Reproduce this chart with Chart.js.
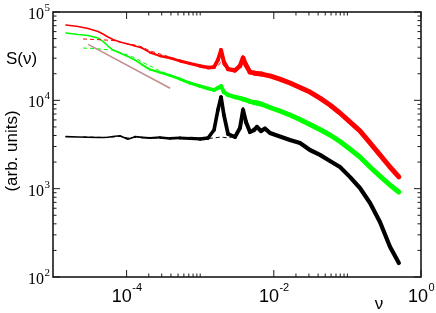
<!DOCTYPE html>
<html><head><meta charset="utf-8">
<script src="https://cdn.jsdelivr.net/npm/chart.js@4.4.1/dist/chart.umd.min.js"></script>
<style>html,body{margin:0;padding:0;background:#fff;}canvas{display:block;}</style>
</head><body>
<canvas id="c" width="436" height="313"></canvas>
<script>
// ---- data (frequency nu, spectral density S(nu)) ----
const nu = [1.50e-5, 2.19e-5, 2.99e-5, 4.09e-5, 4.78e-5, 5.59e-5, 6.53e-5, 8.13e-5, 1.04e-4, 1.30e-4,
  1.62e-4, 2.08e-4, 2.84e-4, 3.89e-4, 5.31e-4, 7.27e-4, 9.94e-4, 1.28e-3, 1.54e-3, 1.74e-3,
  1.92e-3, 2.10e-3, 2.39e-3, 2.97e-3, 3.47e-3, 3.82e-3, 4.19e-3, 4.75e-3, 5.38e-3, 5.91e-3,
  6.70e-3, 7.59e-3, 8.88e-3, 1.21e-2, 1.66e-2, 2.27e-2, 3.10e-2, 4.24e-2, 5.80e-2, 7.93e-2,
  0.108, 0.148, 0.203, 0.277, 0.379, 0.50];
const redS = [71300, 68500, 65000, 60200, 56300, 52100, 48800, 45800, 43400, 41200,
  39100, 34800, 31800, 30200, 27900, 26100, 24500, 23500, 23800, 28600,
  37100, 27200, 22600, 21800, 24500, 30200, 25100, 20900, 20400, 20100,
  19900, 19400, 18900, 17400, 15700, 14000, 12400, 10600, 8850, 7190,
  5690, 4500, 3290, 2410, 1760, 1360];
const greenS = [57800, 55600, 54200, 50800, 46400, 41200, 37100, 34300, 31400, 28600,
  25400, 22300, 20700, 19100, 17400, 15700, 14500, 13600, 13100, 13800,
  14500, 12400, 11500, 10900, 10600, 10300, 10100, 9700, 9450, 9330,
  9090, 8740, 8300, 7570, 6820, 6070, 5320, 4680, 4050, 3420,
  2810, 2280, 1760, 1390, 1100, 917];
const blackS = [3880, 3850, 3820, 3800, 3790, 3820, 3900, 3980, 3620, 3880,
  3800, 3750, 3800, 3700, 3750, 3700, 3650, 3750, 4610, 7770,
  10900, 6820, 4160, 3850, 4860, 7770, 5690, 4380, 4610, 4990,
  4500, 4800, 4270, 3900, 3560, 3290, 2740, 2410, 2060, 1760,
  1360, 1017, 688, 419, 220, 144];

// second (dashed) set of spectra, low-frequency part
const nuDash = [2.56e-5, 3.72e-5, 5.09e-5, 6.53e-5, 8.13e-5, 1.04e-4, 1.30e-4, 1.62e-4, 2.08e-4, 2.84e-4,
  3.89e-4, 5.31e-4, 7.27e-4, 9.94e-4, 1.28e-3, 1.54e-3, 1.74e-3, 1.92e-3, 2.10e-3, 2.39e-3,
  2.97e-3, 3.47e-3, 3.82e-3, 4.19e-3, 4.75e-3];
const redDashS = [49500, 48800, 48200, 47600, 45800, 43400, 42300, 40200, 36200, 33500,
  30900, 28600, 26500, 24800, 23800, 23200, 24500, 27200, 24500, 22600,
  22000, 25800, 32600, 26500, 21500];
const greenDashS = [39100, 38600, 37600, 37100, 34800, 32600, 30200, 27200, 24500, 21500,
  19400, 17700, 15900, 14700, 13800, 13300, 13800, 14200, 12800, 11800,
  11100, 10800, 10600, 10200, 9830];
const blackDashS = [3850, 3820, 3800, 3850, 3900, 3750, 3800, 3800, 3750, 3750,
  3700, 3700, 3650, 3650, 3700, 3750, 3800, 3850, 3800, 3750,
  3950, 5120, 8400, 5990, 4380];

// power-law guide line
const guideNu = [3.0e-5, 3.9e-4];
const guideS = [43000, 13700];

// axis ticks
const xMajor = [1e-4, 1e-2, 1];
const xMajorExp = ['-4', '-2', '0'];
const xMinor = [2e-4,3e-4,4e-4,5e-4,6e-4,7e-4,8e-4,9e-4,1e-3, 2e-2,3e-2,4e-2,5e-2,6e-2,7e-2,8e-2,9e-2,1e-1];
const yMajor = [1e2, 1e3, 1e4, 1e5];
const yMajorExp = ['2', '3', '4', '5'];
const yMinorMult = [2,3,4,5,6,7,8,9];

// ---- build ----
const pts = (xs, ys) => xs.map((v, i) => ({x: v, y: ys[i]}));
function bandWidth(maxW) {
  return c => {
    const lx = (Math.log10(c.p0.parsed.x) + Math.log10(c.p1.parsed.x)) / 2;
    if (lx < -3.9) return 1.6;
    if (lx < -3.0) return 1.6 + (lx + 3.9) / 0.9 * 1.8;
    if (lx < -2.2) return 3.4 + (lx + 3.0) / 0.8 * (maxW - 3.4);
    return maxW;
  };
}
const solid = (data, color, maxW) => ({data, borderColor: color, borderWidth: 1.6, borderCapStyle: 'round',
  borderJoinStyle: 'round', segment: {borderWidth: bandWidth(maxW)}, pointRadius: 0, fill: false});
const dashed = (data, color) => ({data, borderColor: color, borderWidth: 1, borderDash: [4, 3],
  pointRadius: 0, fill: false});

const datasets = [
  dashed(pts(nuDash, redDashS), '#ff0000'),
  dashed(pts(nuDash, greenDashS), '#00ff00'),
  dashed(pts(nuDash, blackDashS), '#000000'),
  solid(pts(nu, redS), '#ff0000', 5),
  solid(pts(nu, greenS), '#00ff00', 5),
  solid(pts(nu, blackS), '#000000', 4.2),
  {data: pts(guideNu, guideS), borderColor: '#c09090', borderWidth: 1.6, pointRadius: 0, fill: false}
];

const SERIF = '"Liberation Serif", "Times New Roman", serif';
const SANS = '"Liberation Sans", Arial, sans-serif';

const framePlugin = {
  id: 'frameTicks',
  afterDraw(chart) {
    const {ctx, chartArea: a, scales: {x, y}} = chart;
    ctx.save();
    ctx.strokeStyle = '#1a1a1a';
    ctx.lineWidth = 1;
    const line = (x1, y1, x2, y2) => { ctx.beginPath(); ctx.moveTo(x1, y1); ctx.lineTo(x2, y2); ctx.stroke(); };
    xMinor.forEach(v => { const p = x.getPixelForValue(v);
      line(p, a.bottom, p, a.bottom - 3.5); line(p, a.top, p, a.top + 3.5); });
    xMajor.forEach(v => { const p = x.getPixelForValue(v);
      line(p, a.bottom, p, a.bottom - 7); line(p, a.top, p, a.top + 7); });
    yMajor.forEach((v, i) => {
      const p = y.getPixelForValue(v);
      line(a.left, p, a.left + 7, p); line(a.right, p, a.right - 7, p);
      if (i < yMajor.length - 1) yMinorMult.forEach(m => { const q = y.getPixelForValue(v * m);
        line(a.left, q, a.left + 3.5, q); line(a.right, q, a.right - 3.5, q); });
    });
    ctx.lineWidth = 1.6;
    ctx.strokeRect(a.left, a.top, a.right - a.left, a.bottom - a.top);

    ctx.fillStyle = '#000';
    ctx.textBaseline = 'alphabetic';
    ctx.textAlign = 'left';
    // y tick labels
    yMajor.forEach((v, i) => {
      const p = y.getPixelForValue(v);
      ctx.font = '11px ' + SERIF; const we = ctx.measureText(yMajorExp[i]).width;
      ctx.fillText(yMajorExp[i], 50 - we, p - 1);
      ctx.font = '16px ' + SERIF; const w10 = ctx.measureText('10').width;
      ctx.fillText('10', 50 - we - w10 - 0.5, p + 7);
    });
    // x tick labels
    xMajor.forEach((v, i) => {
      const p = x.getPixelForValue(v);
      ctx.font = '18px ' + SANS; const w10 = ctx.measureText('10').width;
      ctx.font = '11px ' + SANS; const we = ctx.measureText(xMajorExp[i]).width;
      const left = p - (w10 + we) / 2;
      ctx.font = '18px ' + SANS; ctx.fillText('10', left, 302);
      ctx.font = '11px ' + SANS; ctx.fillText(xMajorExp[i], left + w10 + 0.5, 291);
    });
    // axis titles
    ctx.font = '17px ' + SANS;
    ctx.fillText('S(\u03bd)', 6, 64);
    ctx.textAlign = 'center';
    ctx.fillText('\u03bd', 379, 309);
    ctx.save();
    ctx.translate(17, 151);
    ctx.rotate(-Math.PI / 2);
    ctx.fillText('(arb. units)', 0, 0);
    ctx.restore();
    ctx.restore();
  }
};

new Chart(document.getElementById('c'), {
  type: 'line',
  data: {datasets},
  options: {
    responsive: false, animation: false, devicePixelRatio: 1,
    layout: {padding: {left: 53, right: 15, top: 12, bottom: 36}},
    plugins: {legend: {display: false}, tooltip: {enabled: false}},
    elements: {point: {radius: 0}, line: {tension: 0}},
    scales: {
      x: {type: 'logarithmic', min: 1e-5, max: 1, display: false},
      y: {type: 'logarithmic', min: 100, max: 1e5, display: false}
    }
  },
  plugins: [framePlugin]
});
</script>
</body></html>
